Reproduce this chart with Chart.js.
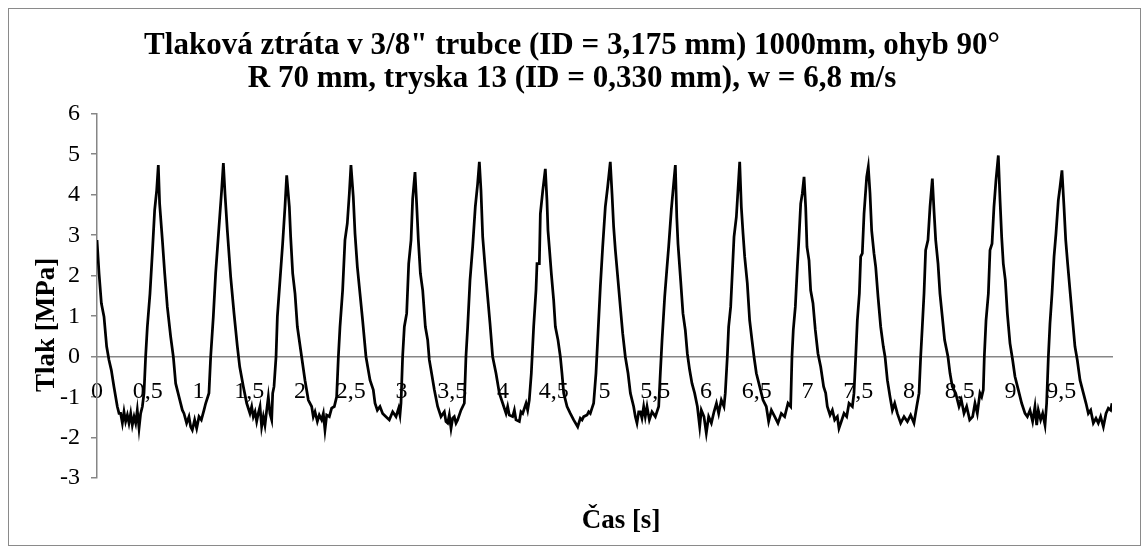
<!DOCTYPE html>
<html>
<head>
<meta charset="utf-8">
<script src="https://cdn.jsdelivr.net/npm/chart.js@4.4.1/dist/chart.umd.min.js"></script>
<style>
html,body{margin:0;padding:0;background:#fff;}
canvas{display:block;}
</style>
</head>
<body>
<canvas id="c" width="1144" height="552"></canvas>
<script>
const titleLines = ['Tlaková ztráta v 3/8" trubce (ID = 3,175 mm) 1000mm, ohyb 90°', 'R 70 mm, tryska 13 (ID = 0,330 mm), w = 6,8 m/s'];
const xTitle = 'Čas [s]';
const yTitle = 'Tlak [MPa]';
const xTickLabels = ['0','0,5','1','1,5','2','2,5','3','3,5','4','4,5','5','5,5','6','6,5','7','7,5','8','8,5','9','9,5'];
const yTickValues = [-3,-2,-1,0,1,2,3,4,5,6];

// time [s]
const timeS = [
  0, 0.020, 0.043, 0.069, 0.095, 0.118, 0.141, 0.167, 0.200, 0.217,
  0.233, 0.250, 0.266, 0.282, 0.299, 0.315, 0.332, 0.348, 0.365, 0.381, 0.397, 0.414, 0.430,
  0.447, 0.463, 0.479, 0.496, 0.522, 0.545, 0.568, 0.588, 0.604,
  0.617, 0.644, 0.667, 0.693, 0.726, 0.752, 0.775, 0.808, 0.841,
  0.857, 0.883, 0.906, 0.923, 0.939, 0.962, 0.982, 1.005, 1.028, 1.054, 1.071, 1.103,
  1.120, 1.146, 1.169, 1.202, 1.228, 1.245,
  1.261, 1.284, 1.317, 1.350, 1.383, 1.406,
  1.442, 1.475, 1.507, 1.524, 1.540, 1.557, 1.573, 1.589, 1.606, 1.622, 1.639, 1.655, 1.672, 1.688, 1.704, 1.721, 1.731,
  1.744, 1.764, 1.777, 1.803, 1.829, 1.852, 1.869,
  1.895, 1.908, 1.928, 1.951, 1.974, 2.016, 2.049, 2.082,
  2.115, 2.131, 2.148, 2.171, 2.190, 2.213, 2.230, 2.246, 2.263, 2.289, 2.312, 2.338, 2.361,
  2.378, 2.394, 2.420, 2.443, 2.466, 2.486, 2.502,
  2.525, 2.542, 2.565, 2.591, 2.617, 2.650, 2.690, 2.722, 2.739,
  2.762, 2.788, 2.814, 2.847, 2.880, 2.913, 2.946, 2.972, 2.985, 2.995,
  3.011, 3.028, 3.051, 3.071, 3.094, 3.110, 3.133,
  3.149, 3.166, 3.186, 3.209, 3.235, 3.258, 3.274, 3.291, 3.324, 3.356,
  3.389, 3.422, 3.438, 3.455, 3.471, 3.488, 3.504, 3.520, 3.537, 3.553, 3.586, 3.619,
  3.635, 3.652, 3.675, 3.701, 3.727, 3.750, 3.767,
  3.783, 3.800, 3.826, 3.849, 3.872, 3.898, 3.931, 3.964, 3.997,
  4.030, 4.046, 4.062, 4.095, 4.112, 4.128, 4.161, 4.177, 4.194, 4.227, 4.243, 4.259,
  4.279, 4.302, 4.325, 4.335, 4.358, 4.368, 4.392, 4.417,
  4.433, 4.443, 4.456, 4.476, 4.499, 4.516, 4.542, 4.565, 4.581, 4.598, 4.631,
  4.663, 4.696, 4.736, 4.762, 4.779, 4.795, 4.828, 4.844, 4.860, 4.877, 4.893,
  4.916, 4.936, 4.959, 4.982, 5.008, 5.031, 5.057,
  5.074, 5.090, 5.107, 5.133, 5.156, 5.179, 5.205, 5.232, 5.255,
  5.287, 5.304, 5.320, 5.337, 5.353, 5.369, 5.386, 5.402, 5.419, 5.442, 5.468, 5.501, 5.534,
  5.550, 5.567, 5.593, 5.616, 5.632, 5.658, 5.681, 5.698,
  5.712, 5.724, 5.750, 5.773, 5.796, 5.816, 5.839, 5.862, 5.888,
  5.915, 5.938, 5.954, 5.980, 6.003, 6.026, 6.053, 6.079, 6.103, 6.125, 6.151, 6.177, 6.190,
  6.210, 6.223, 6.243, 6.259, 6.276, 6.299, 6.315, 6.332,
  6.348, 6.365, 6.381, 6.407, 6.430, 6.453, 6.473, 6.496, 6.529, 6.562,
  6.594, 6.617, 6.644, 6.677, 6.709, 6.742, 6.775, 6.808, 6.834,
  6.847, 6.860, 6.880, 6.900, 6.913, 6.933, 6.949, 6.966,
  6.982, 6.995, 7.015, 7.031, 7.054, 7.077, 7.103, 7.130, 7.159,
  7.179, 7.195, 7.222, 7.245, 7.268, 7.294, 7.310, 7.333, 7.360, 7.386, 7.409, 7.442, 7.458,
  7.475, 7.491, 7.511, 7.524, 7.540, 7.557, 7.583, 7.599,
  7.616, 7.632, 7.655, 7.672, 7.695, 7.721, 7.747, 7.764, 7.787, 7.813,
  7.836, 7.859, 7.885, 7.918, 7.951, 7.984, 8.016, 8.049, 8.076,
  8.099, 8.115, 8.131, 8.148, 8.164, 8.187, 8.207, 8.230,
  8.246, 8.263, 8.286, 8.305, 8.328, 8.351, 8.384, 8.404, 8.427, 8.460,
  8.493, 8.516, 8.542, 8.568, 8.598, 8.627, 8.650, 8.673, 8.699, 8.716, 8.732,
  8.742, 8.759, 8.782, 8.798, 8.818, 8.837, 8.857, 8.880,
  8.897, 8.913, 8.929, 8.949, 8.969, 8.995, 9.021, 9.044, 9.077, 9.110,
  9.143, 9.166, 9.192, 9.218, 9.241, 9.258, 9.274, 9.297, 9.317, 9.340, 9.356,
  9.373, 9.389, 9.409, 9.429, 9.448, 9.471, 9.488, 9.507,
  9.527, 9.544, 9.563, 9.586, 9.612, 9.635, 9.658, 9.685, 9.718, 9.744,
  9.767, 9.790, 9.816, 9.842, 9.865, 9.888, 9.915, 9.941, 9.964, 9.987, 10.0
];

// pressure [MPa]
const pressureMPa = [
  2.88, 2.06, 1.32, 0.99, 0.25, -0.08, -0.33, -0.74, -1.23, -1.40,
  -1.40, -1.64, -1.36, -1.60, -1.44, -1.64, -1.40, -1.69, -1.48, -1.64, -1.32, -1.77, -1.40,
  -1.23, -0.90, 0, 0.74, 1.56, 2.55, 3.62, 4.11, 4.73,
  3.78, 2.88, 2.06, 1.23, 0.49, 0, -0.66, -0.99, -1.32,
  -1.40, -1.64, -1.48, -1.73, -1.81, -1.56, -1.77, -1.48, -1.56, -1.32, -1.15, -0.90,
  0, 0.99, 2.06, 3.21, 4.11, 4.78,
  4.03, 3.12, 1.97, 1.07, 0.25, -0.25,
  -0.74, -1.15, -1.40, -1.23, -1.48, -1.36, -1.60, -1.40, -1.23, -1.73, -1.48, -1.69, -1.32, -0.99, -1.40, -1.56, -0.90,
  -0.74, 0, 0.99, 1.89, 2.79, 3.70, 4.48,
  3.70, 2.96, 2.06, 1.56, 0.74, 0, -0.58, -1.07,
  -1.23, -1.48, -1.36, -1.60, -1.44, -1.56, -1.40, -1.81, -1.44, -1.48, -1.27, -1.23, -0.99,
  0, 0.74, 1.64, 2.88, 3.29, 4.03, 4.73,
  3.95, 3.04, 2.22, 1.56, 0.90, 0, -0.58, -0.82, -1.15,
  -1.32, -1.23, -1.40, -1.48, -1.56, -1.36, -1.48, -1.27, -1.44, -1.15,
  0, 0.74, 1.07, 2.30, 2.88, 3.90, 4.56,
  3.78, 2.88, 2.06, 1.64, 0.74, 0.41, -0.08, -0.33, -0.82, -1.23,
  -1.48, -1.36, -1.60, -1.64, -1.44, -1.77, -1.52, -1.48, -1.64, -1.56, -1.32, -1.15,
  0, 0.74, 1.89, 2.71, 3.70, 4.27, 4.81,
  4.11, 2.96, 2.14, 1.48, 0.82, 0, -0.41, -0.90, -1.15,
  -1.40, -1.23, -1.44, -1.48, -1.32, -1.56, -1.60, -1.36, -1.40, -1.15, -1.32, -1.07,
  -0.41, 0.74, 1.64, 2.30, 2.30, 3.53, 4.11, 4.64,
  3.86, 3.12, 2.71, 2.06, 1.40, 0.74, 0.41, 0, -0.41, -0.90, -1.23,
  -1.40, -1.56, -1.73, -1.52, -1.56, -1.48, -1.44, -1.36, -1.40, -1.27, -1.15,
  -0.41, 0.58, 1.73, 2.71, 3.70, 4.19, 4.81,
  4.03, 3.21, 2.63, 1.89, 1.23, 0.58, 0, -0.41, -0.90,
  -1.23, -1.48, -1.64, -1.36, -1.36, -1.52, -1.23, -1.48, -1.23, -1.56, -1.36, -1.48, -1.23,
  -0.41, 0.41, 1.48, 2.22, 2.71, 3.62, 4.27, 4.73,
  3.45, 2.79, 1.89, 1.07, 0.66, 0.08, -0.33, -0.66, -0.90,
  -1.23, -1.73, -1.32, -1.48, -1.89, -1.48, -1.64, -1.36, -1.15, -1.40, -1.07, -1.23, -0.90,
  0, 0.74, 1.23, 2.06, 2.96, 3.45, 4.11, 4.81,
  3.70, 3.04, 2.47, 1.81, 0.90, 0.41, 0, -0.41, -0.74, -1.07,
  -1.23, -1.60, -1.32, -1.48, -1.64, -1.40, -1.48, -1.15, -1.23,
  0, 0.66, 1.23, 2.22, 2.79, 3.78, 4.03, 4.44,
  3.70, 2.71, 2.38, 1.64, 1.32, 0.66, 0.08, -0.25, -0.74,
  -0.90, -1.23, -1.44, -1.32, -1.56, -1.48, -1.77, -1.60, -1.40, -1.48, -1.15, -1.23, -0.90,
  0, 0.90, 1.56, 2.47, 2.55, 3.53, 4.44, 4.69,
  4.03, 3.12, 2.55, 2.22, 1.48, 0.74, 0.25, 0, -0.58, -0.99,
  -1.32, -1.15, -1.40, -1.64, -1.48, -1.60, -1.44, -1.64, -1.23,
  -0.90, 0, 0.74, 1.56, 2.63, 2.88, 3.70, 4.40,
  3.62, 2.88, 2.30, 1.56, 0.99, 0.41, 0, -0.41, -0.74, -0.90,
  -1.23, -1.07, -1.40, -1.23, -1.56, -1.48, -1.15, -1.40, -0.90, -0.99, -0.82,
  0, 0.90, 1.56, 2.63, 2.79, 3.70, 4.36, 4.97,
  3.86, 2.96, 2.30, 1.89, 1.07, 0.33, -0.08, -0.49, -0.82, -1.15,
  -1.40, -1.48, -1.32, -1.60, -1.23, -1.69, -1.32, -1.56, -1.40, -1.69, -1.15,
  0, 0.82, 1.56, 2.47, 3.04, 3.86, 4.19, 4.60,
  3.70, 2.88, 2.30, 1.64, 0.90, 0.25, -0.08, -0.58, -0.90, -1.15,
  -1.40, -1.32, -1.64, -1.52, -1.64, -1.48, -1.73, -1.40, -1.27, -1.32, -1.15
];

const points = timeS.map((t, i) => ({x: t, y: pressureMPa[i]}));

const SERIF = '"Liberation Serif", "Times New Roman", serif';
const AXIS_GRAY = '#868686';

const framePlugin = {
  id: 'framePlugin',
  beforeDraw(chart) {
    const c = chart.ctx;
    c.save();
    c.fillStyle = '#ffffff';
    c.fillRect(0, 0, chart.width, chart.height);
    c.strokeStyle = '#8a8a8a';
    c.lineWidth = 1;
    c.strokeRect(8.5, 8.5, 1132, 537);
    c.restore();
  },
  afterDraw(chart) {
    const c = chart.ctx;
    c.save();
    c.fillStyle = '#000';
    c.font = 'bold 27px ' + SERIF;
    c.textAlign = 'center';
    c.textBaseline = 'middle';
    c.fillText(xTitle, 621, 521);
    c.translate(47, 325);
    c.rotate(-Math.PI / 2);
    c.fillText(yTitle, 0, 0);
    c.restore();
  }
};

new Chart(document.getElementById('c'), {
  type: 'scatter',
  data: {
    datasets: [{
      data: points,
      showLine: true,
      borderColor: '#000000',
      borderWidth: 2.75,
      pointRadius: 0,
      tension: 0,
      fill: false
    }]
  },
  options: {
    responsive: false,
    animation: false,
    devicePixelRatio: 1,
    layout: { padding: { left: 0, right: 0, top: 0, bottom: 73.8 } },
    plugins: {
      legend: { display: false },
      tooltip: { enabled: false },
      title: {
        display: true,
        text: titleLines,
        color: '#000',
        font: { family: SERIF, size: 31, weight: 'bold', lineHeight: 1.065 },
        padding: { top: 29.5, bottom: 18.2 }
      }
    },
    scales: {
      x: {
        type: 'linear',
        min: 0,
        max: 10,
        position: { y: 0 },
        grid: { display: false },
        border: { display: true, color: AXIS_GRAY, width: 1.5 },
        ticks: {
          stepSize: 0.5,
          autoSkip: false,
          maxRotation: 0,
          minRotation: 0,
          padding: 13,
          color: '#000',
          font: { family: SERIF, size: 24 },
          callback: (v, i) => (xTickLabels[i] !== undefined ? xTickLabels[i] : '')
        }
      },
      y: {
        type: 'linear',
        min: yTickValues[0],
        max: yTickValues[yTickValues.length - 1],
        afterFit: (s) => { s.width = 97; },
        grid: { display: true, drawOnChartArea: false, drawTicks: true, tickLength: 6, color: AXIS_GRAY, lineWidth: 1.5 },
        border: { display: true, color: AXIS_GRAY, width: 1.5 },
        ticks: {
          stepSize: 1,
          padding: 11,
          color: '#000',
          font: { family: SERIF, size: 24 }
        }
      },
      yRight: {
        type: 'linear',
        position: 'right',
        display: true,
        afterFit: (s) => { s.width = 32; },
        grid: { display: false },
        border: { display: false },
        ticks: { display: false }
      }
    }
  },
  plugins: [framePlugin]
});
</script>
</body>
</html>
